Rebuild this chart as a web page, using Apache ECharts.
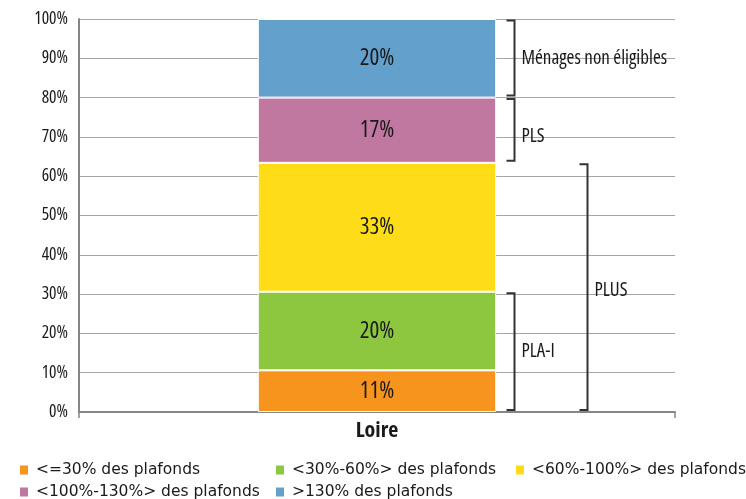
<!DOCTYPE html>
<html>
<head>
<meta charset="utf-8">
<script src="https://cdn.jsdelivr.net/npm/echarts@6/dist/echarts.min.js"></script>
<style>
  html, body { margin: 0; padding: 0; background: #fff; }
  #chart { width: 746px; height: 499px; }
</style>
</head>
<body>
<div id="chart"></div>
<script>
// Household distribution by income ceiling band, Loire
const categories = ['Loire'];
const seriesNames = [
  '<=30% des plafonds',
  '<30%-60%> des plafonds',
  '<60%-100%> des plafonds',
  '<100%-130%> des plafonds',
  '>130% des plafonds'
];
const seriesValues = [10.6, 20.0, 32.8, 16.6, 20.0];
const seriesColors = ['#F7941D', '#8DC63F', '#FEDD18', '#C077A0', '#64A0CC'];
const yTickValues = [0, 10, 20, 30, 40, 50, 60, 70, 80, 90, 100];

// Right-hand brackets: which stacked segments each one spans (first..last index)
const bracketNames = ['Ménages non éligibles', 'PLS', 'PLUS', 'PLA-I'];
const bracketFirst = [4, 3, 0, 0];
const bracketLast = [4, 3, 2, 1];
const bracketOuter = [false, false, true, false];
const bracketLabelAt = [90, 70, 31, 15.3];

// Condensed face for chart text (font-stretch goes through the weight slot of the canvas font string)
const COND = "'Open Sans', 'DejaVu Sans Condensed', sans-serif";
const LEGEND_FONT = "'DejaVu Sans', sans-serif";
const TEXT = '#1a1a1a';

const chart = echarts.init(document.getElementById('chart'), null, { renderer: 'canvas' });

const series = seriesNames.map((name, i) => ({
  name: name,
  type: 'bar',
  stack: 'total',
  barWidth: '40%',
  data: [seriesValues[i]],
  itemStyle: { color: seriesColors[i], borderColor: '#fff', borderWidth: 1 },
  label: {
    show: true,
    position: 'inside',
    formatter: p => Math.round(p.value) + '%',
    fontFamily: COND,
    fontWeight: 'condensed',
    fontSize: 23,
    color: TEXT
  }
}));

// One legend block per entry so the entries sit in fixed columns
const legendSpots = [[20, 461], [276, 461], [516, 461], [20, 483], [276, 483]];
const legends = seriesNames.map((name, i) => ({
  data: [name],
  left: legendSpots[i][0],
  top: legendSpots[i][1],
  padding: 0,
  icon: 'rect',
  itemWidth: 8,
  itemHeight: 9,
  selectedMode: false,
  itemStyle: { borderWidth: 0 },
  textStyle: {
    fontFamily: LEGEND_FONT,
    fontSize: 15.5,
    color: TEXT,
    lineHeight: 18,
    padding: [0, 0, 0, 3]
  }
}));

chart.setOption({
  animation: false,
  backgroundColor: '#fff',
  grid: { left: 79, right: 71, top: 19, bottom: 87 },
  legend: legends,
  xAxis: {
    type: 'category',
    data: categories,
    axisLine: { show: true, lineStyle: { color: '#868686', width: 2 } },
    axisTick: { show: true, length: 6, lineStyle: { color: '#868686', width: 1.5 } },
    axisLabel: {
      margin: 8,
      fontFamily: COND,
      fontSize: 22,
      fontWeight: 'bold condensed',
      color: TEXT
    }
  },
  yAxis: {
    type: 'value',
    min: 0,
    max: 100,
    interval: 10,
    axisLine: { show: true, lineStyle: { color: '#868686', width: 2 } },
    axisTick: { show: false },
    splitLine: { show: true, lineStyle: { color: '#a6a6a6', width: 1 } },
    axisLabel: {
      margin: 11,
      fontFamily: COND,
      fontWeight: 'condensed',
      fontSize: 17.5,
      color: TEXT,
      formatter: v => yTickValues.includes(v) ? v + '%' : ''
    }
  },
  series: series
});

// Brackets drawn against the value axis
const cumulative = [0];
seriesValues.forEach((v, i) => cumulative.push(cumulative[i] + v));
const topOf = v => chart.convertToPixel({ gridIndex: 0 }, [0, Math.min(v, 100)])[1];
const centerX = chart.convertToPixel({ gridIndex: 0 }, [0, 0])[0];
const gridRect = chart.getModel().getComponent('grid').coordinateSystem.getRect();
const barRight = centerX + gridRect.width * 0.4 / 2;

const graphics = [];
bracketNames.forEach((name, k) => {
  const lo = cumulative[bracketFirst[k]];
  const hi = cumulative[bracketLast[k] + 1];
  const x = Math.round(barRight + (bracketOuter[k] ? 91 : 18)) + 0.5;
  const yTop = topOf(hi) + 1.5;
  const yBot = topOf(lo) - 2;
  graphics.push({
    type: 'polyline',
    shape: { points: [[x - 8, yTop], [x, yTop], [x, yBot], [x - 8, yBot]] },
    style: { stroke: '#333', lineWidth: 2, fill: null },
    silent: true
  });
  graphics.push({
    type: 'text',
    x: x + 7,
    y: topOf(bracketLabelAt[k]),
    style: {
      text: name,
      fontFamily: COND,
      fontWeight: 'condensed',
      fontSize: 19,
      fill: TEXT,
      verticalAlign: 'middle',
      align: 'left'
    },
    silent: true
  });
});
chart.setOption({ graphic: graphics });
</script>
</body>
</html>
